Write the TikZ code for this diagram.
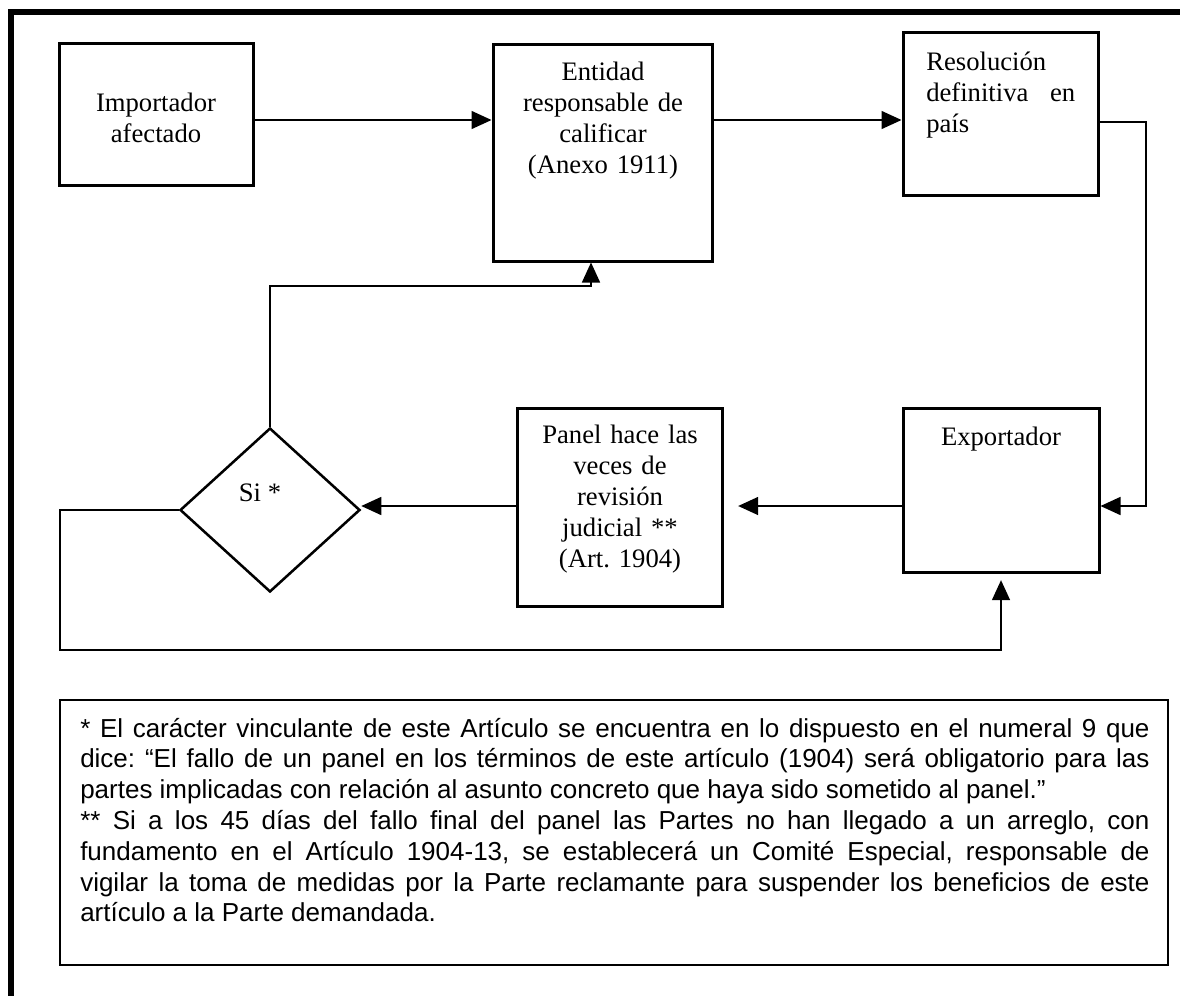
\documentclass[tikz,border=0pt]{standalone}
\usepackage{fontspec}
\setmainfont{Liberation Serif}
\newfontfamily\notafont{Liberation Sans}
\usetikzlibrary{arrows.meta,shapes.geometric}

\tikzset{
  caja/.style={draw, line width=2.25pt, inner sep=0pt},
  rombo/.style={draw, diamond, line width=1.9pt, inner sep=0pt},
  texto/.style={inner sep=0pt, font=\fontsize{20pt}{23.25pt}\selectfont\frenchspacing},
  nota/.style={inner sep=0pt, text width=802pt, align=justify, font=\notafont\fontsize{19.5pt}{23.1pt}\selectfont\frenchspacing},
  flecha/.style={-{Triangle[length=15pt,width=13.5pt]}, line width=1.1pt}
}

\begin{document}
\begin{tikzpicture}[x=0.75pt,y=0.75pt,yscale=-1,xscale=1]
\useasboundingbox (0,0) rectangle (1180,996);

%Frame
\draw [line width=4.5pt] (1180,12) -- (11,12) -- (11,996);

%Shape: Rectangle
\node [caja, minimum width=145.5pt, minimum height=106.5pt] (imp) at (156,114) {};
%Shape: Rectangle
\node [caja, minimum width=164.25pt, minimum height=162.75pt] (ent) at (602.5,152.5) {};
%Shape: Rectangle
\node [caja, minimum width=146.25pt, minimum height=122.25pt] (res) at (1000.5,113.5) {};
%Shape: Rectangle
\node [caja, minimum width=153.75pt, minimum height=148.5pt] (pan) at (619.5,507) {};
%Shape: Rectangle
\node [caja, minimum width=147pt, minimum height=123pt] (exp) at (1001,490) {};
%Shape: Diamond
\node [rombo, minimum width=135pt, minimum height=123pt] (dia) at (270,510) {};
%Shape: Rectangle
\node [draw, line width=1.1pt, inner sep=0pt, minimum width=831pt, minimum height=198.75pt] (notas) at (614,832.5) {};

%Bends
\coordinate (fila1) at (0,120);
\coordinate (fila2) at (0,506);
\coordinate (codo) at (1146,122);
\coordinate (subida) at (591,286);
\coordinate (lazo) at (60,650);

%Straight Lines
\draw [flecha] (imp.east |- fila1) -- (ent.west |- fila1);
\draw [flecha] (ent.east |- fila1) -- (res.west |- fila1);
\draw [flecha] (res.east |- codo) -- (codo) |- (exp.east |- fila2);
\draw [flecha, shorten >=11pt] (exp.west |- fila2) -- (pan.east |- fila2);
\draw [flecha] (pan.west |- fila2) -- (dia.east |- fila2);
\draw [flecha] (dia.north) |- (subida) -- (subida |- ent.south);
\draw [flecha, shorten >=5pt] (dia.west) -| (lazo) -| (exp.south);

% Text Node
\node [texto, anchor=base, text width=135pt, align=center] (imp-t) at (156,111) {Importador\\afectado};
% Text Node
\node [texto, anchor=base, text width=150pt, align=center] (ent-t) at (603,80) {Entidad\\responsable de\\calificar\\(Anexo 1911)};
% Text Node
\node [texto, anchor=base west, text width=111.75pt, align=left] (res-t) at (926,70) {Resolución\\definitiva\hfill en\\país};
% Text Node
\node [texto, anchor=base, text width=150pt, align=center] (pan-t) at (620,443) {Panel hace las\\veces de\\revisión\\judicial **\\(Art.~1904)\hspace*{28pt}};
% Text Node
\node [texto, anchor=base] (exp-t) at (1001,445) {Exportador};
% Text Node
\node [texto, anchor=base] (dia-t) at (260,501) {Si *};
% Text Node
\node [nota, anchor=base west] (notas-t) at (80,737) {\sloppy * El carácter vinculante de este Artículo se encuentra en lo dispuesto en el numeral 9 que\linebreak dice: “El fallo de un panel en los términos de este artículo (1904) será obligatorio para las\linebreak partes implicadas con relación al asunto concreto que haya sido sometido al panel.”\par ** Si a los 45 días del fallo final del panel las Partes no han llegado a un arreglo, con\linebreak fundamento en el Artículo 1904-13, se establecerá un Comité Especial, responsable de\linebreak vigilar la toma de medidas por la Parte reclamante para suspender los beneficios de este\linebreak artículo a la Parte demandada.};

\end{tikzpicture}
\end{document}
